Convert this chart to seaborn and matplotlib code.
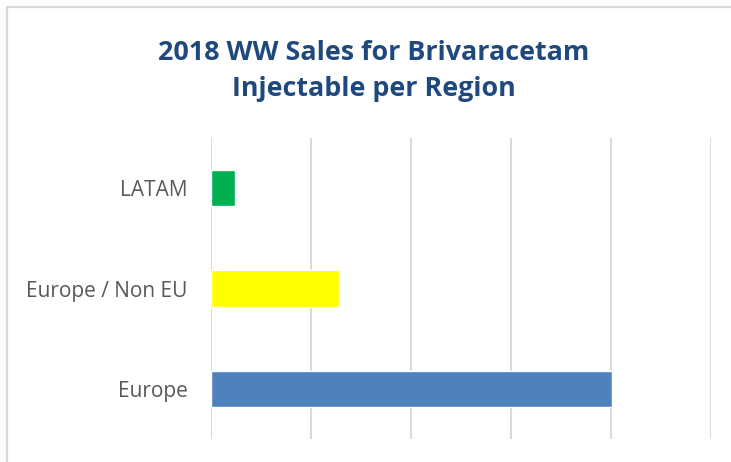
import matplotlib
matplotlib.use("Agg")
import matplotlib.pyplot as plt
import seaborn as sns
import pandas as pd
from matplotlib.lines import Line2D

regions = ["LATAM", "Europe / Non EU", "Europe"]
sales = [0.24, 1.28, 4.01]
colors = ["#00B050", "#FFFF00", "#4F81BD"]
title = "2018 WW Sales for Brivaracetam\nInjectable per Region"

df = pd.DataFrame({"region": regions, "sales": sales})

sns.set_theme(style="white")
plt.rcParams["font.family"] = ["Open Sans", "DejaVu Sans"]

W, H = 731, 462
fig = plt.figure(figsize=(W / 100, H / 100), dpi=100)
ax = fig.add_axes([211 / W, 1 - 439 / H, 500 / W, 301 / H])

sns.barplot(data=df, x="sales", y="region", hue="region", palette=colors,
            order=regions, hue_order=regions, legend=False, width=0.36,
            orient="h", ax=ax, saturation=1)

ax.set_xlim(0, 5)
ax.set_ylim(2.5, -0.5)
ax.set_xticks([0, 1, 2, 3, 4, 5])
ax.set_xticklabels([])
ax.tick_params(axis="x", length=0)
ax.tick_params(axis="y", length=0, pad=17, labelsize=15, labelcolor="#595959")
ax.grid(axis="x", color="#D9D9D9", linewidth=1.4)
ax.set_axisbelow(True)
for s in ax.spines.values():
    s.set_visible(False)
ax.set_xlabel("")
ax.set_ylabel("")

fig.text(374 / W, 1 - 71 / H, title, ha="center", va="center",
         fontsize=19.4, fontweight="bold", color="#1F497D", linespacing=1.55)

# chart border (top and left visible)
fig.add_artist(Line2D([7 / W, 1], [1 - 6.5 / H, 1 - 6.5 / H],
                      transform=fig.transFigure, color="#D9D9D9", linewidth=1.6))
fig.add_artist(Line2D([6.5 / W, 6.5 / W], [1 - 7 / H, 0],
                      transform=fig.transFigure, color="#D9D9D9", linewidth=1.6))

fig.savefig("out.png", dpi=100)
